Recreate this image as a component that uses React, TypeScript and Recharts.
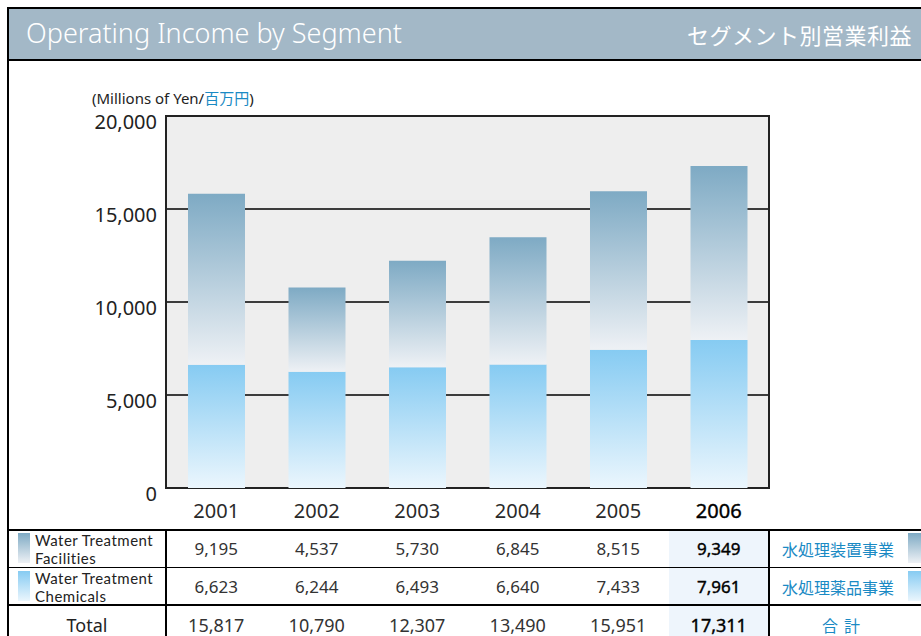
import { BarChart, Bar, XAxis, YAxis, CartesianGrid, ReferenceArea } from 'recharts';

const years = ['2001', '2002', '2003', '2004', '2005', '2006'];
const facilities = [9195, 4537, 5730, 6845, 8515, 9349];
const chemicals = [6623, 6244, 6493, 6640, 7433, 7961];
const totals = [15817, 10790, 12307, 13490, 15951, 17311];
const yTicks = [0, 5000, 10000, 15000, 20000];

const data = years.map((year, i) => ({
  year,
  chemicals: chemicals[i],
  facilities: facilities[i],
}));

const FONT = '"Noto Sans", "Noto Sans CJK JP", sans-serif';
const JP = '"Noto Sans CJK JP", sans-serif';
const BLUE = '#1a8ac4';
const PLOT_LEFT = 166;
const PLOT_RIGHT = 769;
const COL_W = (PLOT_RIGHT - PLOT_LEFT) / years.length;

const fmt = (v: number) => v.toLocaleString('en-US');

const YTick = ({ x, y, payload }: any) => (
  <text x={x - 9} y={y + 5} textAnchor="end" dominantBaseline="central" fontSize={20} fill="#222" fontFamily={FONT}>
    {fmt(payload.value)}
  </text>
);

const XTick = ({ x, y, payload }: any) => {
  const last = payload.value === years[years.length - 1];
  return (
    <text x={x} y={y + 22} textAnchor="middle" dominantBaseline="central" fontSize={20}
      fill={last ? '#000' : '#2a2a2a'} stroke={last ? '#000' : 'none'} strokeWidth={0.4} fontFamily={FONT}>
      {payload.value}
    </text>
  );
};

const abs = (left: number, top: number, w: number, h: number, extra: any = {}) => ({
  position: 'absolute' as const, left, top, width: w, height: h, ...extra,
});

function Cell({ x, y, w, h, children, style }: any) {
  return (
    <div style={abs(x, y, w, h, {
      display: 'flex', alignItems: 'center', justifyContent: 'center',
      fontFamily: FONT, color: '#222', ...style,
    })}>
      {children}
    </div>
  );
}

const rowTops = [530, 568, 606];
const rowH = 37;

const labelStyle = { fontSize: 15, lineHeight: '18px', color: '#222', fontFamily: 'Lato, sans-serif', letterSpacing: 0.5, whiteSpace: 'nowrap' };

export default function App() {
  return (
    <div style={{ position: 'absolute', left: 0, top: 0, width: 921, height: 636, overflow: 'hidden', background: '#fff', fontFamily: FONT }}>
      {/* header */}
      <div style={abs(7, 7, 920, 50, {
        background: '#a3b8c7', borderTop: '2px solid #000', borderLeft: '2px solid #000', borderBottom: '2px solid #000',
      })} />
      <div style={abs(26, 13, 420, 40, { color: '#fff', fontSize: 27, fontWeight: 300, lineHeight: '40px', fontFamily: FONT, whiteSpace: 'nowrap' })}>
        Operating Income by Segment
      </div>
      <div style={abs(600, 14, 312, 40, { color: '#fff', fontSize: 22, lineHeight: '40px', textAlign: 'right', fontFamily: JP, letterSpacing: 0.5 })}>
        セグメント別営業利益
      </div>
      {/* body left border */}
      <div style={abs(7, 61, 2, 600, { background: '#000' })} />

      <div style={abs(92, 87, 300, 22, { fontSize: 15, color: '#222', lineHeight: '22px', whiteSpace: 'nowrap' })}>
        (Millions of Yen/<span style={{ color: BLUE, fontFamily: JP }}>百万円</span>)
      </div>

      {/* 2006 highlight */}
      <div style={abs(PLOT_LEFT + COL_W * 5, 530, COL_W, 110, { background: '#eef5fc' })} />

      <div style={abs(0, 0, 921, 636)}>
        <BarChart width={921} height={636} data={data}
          margin={{ top: 116, right: 921 - PLOT_RIGHT, bottom: 118, left: PLOT_LEFT - 80 }}>
          <defs>
            <linearGradient id="gFac" x1="0" y1="0" x2="0" y2="1">
              <stop offset="0%" stopColor="#7eaac4" />
              <stop offset="100%" stopColor="#eef1f5" />
            </linearGradient>
            <linearGradient id="gChem" x1="0" y1="0" x2="0" y2="1">
              <stop offset="0%" stopColor="#86cbf2" />
              <stop offset="100%" stopColor="#ebf6fd" />
            </linearGradient>
          </defs>
          <CartesianGrid vertical={false} stroke="#000" strokeWidth={1.5} fill="#eeeeee" />
          <XAxis dataKey="year" height={30} axisLine={false} tickLine={false} tickSize={0} tickMargin={0} tick={<XTick />} />
          <YAxis width={80} domain={[0, 20000]} ticks={yTicks} axisLine={false} tickLine={false} tickSize={0} tickMargin={0} tick={<YTick />} />
          <Bar dataKey="chemicals" stackId="a" fill="url(#gChem)" barSize={57} isAnimationActive={false} />
          <Bar dataKey="facilities" stackId="a" fill="url(#gFac)" barSize={57} isAnimationActive={false} />
          <ReferenceArea y1={0} y2={20000} fill="none" stroke="#222" strokeWidth={2} ifOverflow="visible" />
        </BarChart>
      </div>

      {/* table lines */}
      <div style={abs(7, 529, 914, 2, { background: '#000' })} />
      <div style={abs(7, 567, 914, 1, { background: '#000' })} />
      <div style={abs(7, 604, 914, 2, { background: '#000' })} />
      <div style={abs(165, 529, 2, 107, { background: '#000' })} />
      <div style={abs(768, 529, 2, 107, { background: '#000' })} />

      {/* legend swatches */}
      <div style={abs(18, 533, 12, 30, { background: 'linear-gradient(#7eaac4, #eef1f5)' })} />
      <div style={abs(18, 571, 12, 30, { background: 'linear-gradient(#86cbf2, #ebf6fd)' })} />
      <div style={abs(908, 533, 13, 30, { background: 'linear-gradient(#7eaac4, #eef1f5)' })} />
      <div style={abs(908, 571, 13, 30, { background: 'linear-gradient(#86cbf2, #ebf6fd)' })} />

      {/* row labels */}
      <div style={abs(35, 531, 130, 36, labelStyle)}>
        Water Treatment<br />Facilities
      </div>
      <div style={abs(35, 569, 130, 36, labelStyle)}>
        Water Treatment<br />Chemicals
      </div>
      <Cell x={9} y={rowTops[2]} w={156} h={rowH} style={{ fontSize: 18 }}>Total</Cell>

      {[facilities, chemicals, totals].map((row, r) =>
        row.map((v, i) => (
          <Cell key={`${r}-${i}`} x={PLOT_LEFT + COL_W * i} y={rowTops[r]} w={COL_W} h={rowH}
            style={{
              fontSize: r === 2 ? 18 : 17,
              color: i === 5 ? '#000' : '#333',
              WebkitTextStroke: i === 5 ? '0.4px #000' : undefined,
            }}>
            {fmt(v)}
          </Cell>
        ))
      )}

      <Cell x={770} y={rowTops[0]} w={136} h={rowH} style={{ fontSize: 16, color: BLUE, fontFamily: JP }}>水処理装置事業</Cell>
      <Cell x={770} y={rowTops[1]} w={136} h={rowH} style={{ fontSize: 16, color: BLUE, fontFamily: JP }}>水処理薬品事業</Cell>
      <Cell x={770} y={rowTops[2]} w={148} h={rowH} style={{ fontSize: 16, color: BLUE, fontFamily: JP, letterSpacing: 6 }}>合計</Cell>
    </div>
  );
}
